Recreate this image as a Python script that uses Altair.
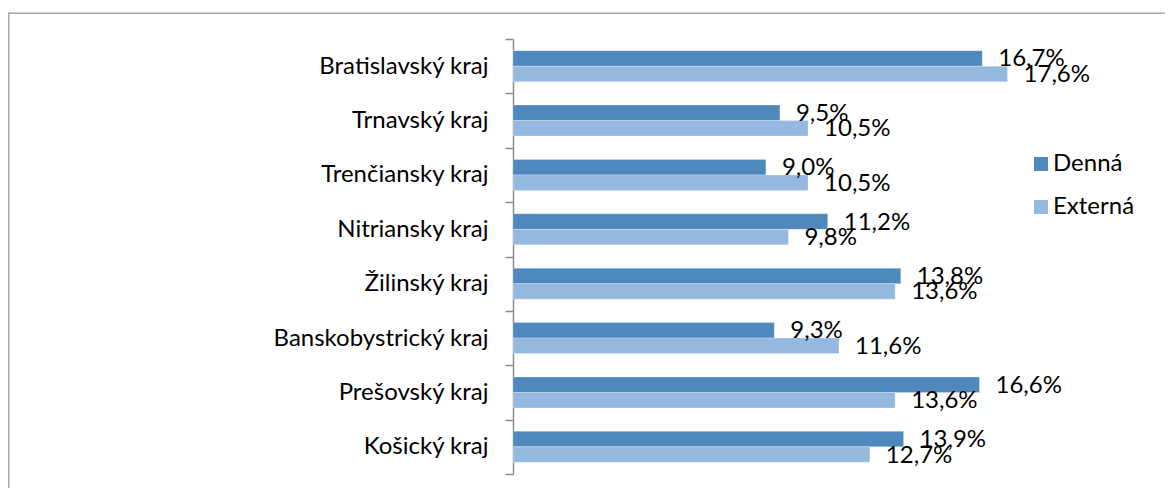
import altair as alt
import pandas as pd

regions = ["Bratislavský kraj", "Trnavský kraj", "Trenčiansky kraj", "Nitriansky kraj",
           "Žilinský kraj", "Banskobystrický kraj", "Prešovský kraj", "Košický kraj"]
series = ["Denná", "Externá"]
denna = [16.7, 9.5, 9.0, 11.2, 13.8, 9.3, 16.6, 13.9]
externa = [17.6, 10.5, 10.5, 9.8, 13.6, 11.6, 13.6, 12.7]
colors = ["#4F88BC", "#95B8DF"]

rows = []
for r, d, e in zip(regions, denna, externa):
    rows.append({"kraj": r, "typ": "Denná", "hodnota": d})
    rows.append({"kraj": r, "typ": "Externá", "hodnota": e})
df = pd.DataFrame(rows)
df["label"] = df["hodnota"].map(lambda v: f"{v:.1f}".replace(".", ",") + "%")

FONT = "Lato"

y_enc = alt.Y("kraj:N", sort=regions, title=None,
              scale=alt.Scale(paddingInner=0, paddingOuter=0),
              axis=alt.Axis(tickBand="extent", domainColor="#8C8C8C", domainWidth=1.5,
                            tickColor="#8C8C8C", tickWidth=1.5, tickSize=8,
                            labelPadding=17, labelFontSize=24, labelFont=FONT,
                            labelColor="#000000", labelLimit=0, grid=False))
x_enc = alt.X("hodnota:Q", scale=alt.Scale(domain=[0, 20], nice=False), axis=None)
yoff = alt.YOffset("typ:N", sort=series, scale=alt.Scale(paddingInner=0, paddingOuter=0.755))

base = alt.Chart(df)

bars = base.mark_bar(stroke="#FFFFFF", strokeWidth=0.5, strokeOpacity=0.5).encode(
    x=x_enc,
    y=y_enc,
    yOffset=yoff,
    color=alt.Color("typ:N", sort=series,
                    scale=alt.Scale(domain=series, range=colors),
                    legend=alt.Legend(title=None, orient="none", legendX=516, legendY=113,
                                      symbolType="square", symbolSize=196,
                                      symbolStrokeWidth=0, labelFontSize=24,
                                      labelFont=FONT, labelColor="#000000",
                                      labelOffset=0, rowPadding=19, padding=0)),
)

labels = base.mark_text(align="left", baseline="middle", dx=16, dy=1,
                        fontSize=24, font=FONT, color="#000000").encode(
    x=x_enc,
    y=alt.Y("kraj:N", sort=regions),
    yOffset=yoff,
    text="label:N",
)

border = alt.Chart(pd.DataFrame({"b": [0]})).mark_rect(
    fill=None, stroke="#A6A6A6", strokeWidth=1.5
).encode(
    x=alt.value(-504.25), x2=alt.value(700),
    y=alt.value(-25.75), y2=alt.value(520),
)

chart = alt.layer(border, bars, labels).properties(
    width=562, height=435,
    autosize=alt.AutoSizeParams(type="none"),
    padding={"left": 505, "top": 31, "right": 90, "bottom": 14},
).configure(background="#FFFFFF").configure_view(stroke=None)

chart.save("out.html", embed_options={"renderer": "svg", "actions": False})
